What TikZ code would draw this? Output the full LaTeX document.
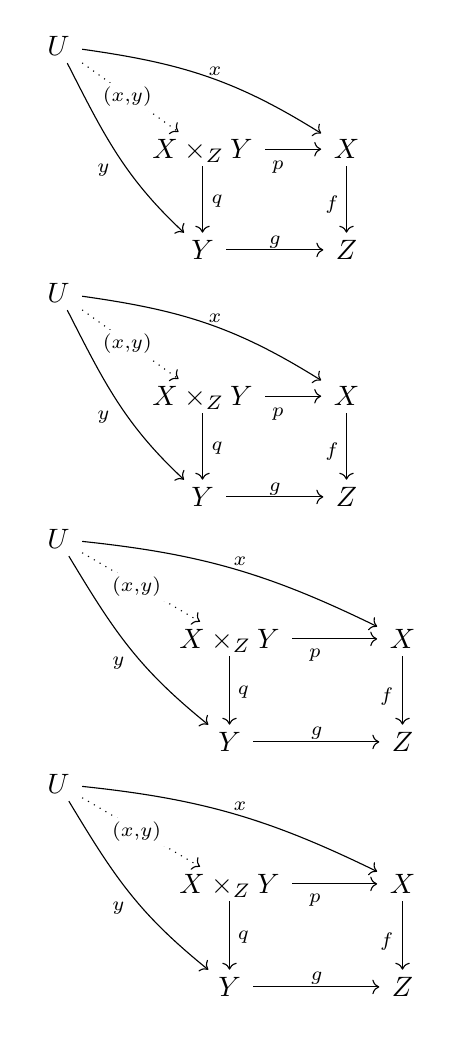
\documentclass[tikz,border=0pt]{standalone}
\usetikzlibrary{arrows.meta}
\tikzset{
  obj/.style={anchor=base, inner xsep=1ex, inner ysep=1.2pt, text height=8pt, text depth=1.5pt},
  lbl/.style={inner sep=0pt},
  desc/.style={fill=white, inner sep=1.5pt},
  arr/.style={-{Computer Modern Rightarrow}, line width=0.4pt},
  dotarr/.style={arr, dotted},
}
\newcommand{\pbnarrow}{%
  \node[obj] (U) at (58.5,55) {$U$};
  \node[obj] (P) at (202.5,158.3) {$X \times_Z Y$};
  \node[obj] (X) at (346.5,158.3) {$X$};
  \node[obj] (Y) at (202.5,259) {$Y$};
  \node[obj] (Z) at (346.5,259) {$Z$};
  \draw[arr] (U.-8) .. controls +(-8:36pt) and +(148:36pt) .. (X.148);
  \draw[arr] (U.-63) .. controls +(-63:29pt) and +(137:29pt) .. (Y.137);
  \draw[dotarr] (U) -- (P);
  \draw[arr] (P) -- (X);
  \draw[arr] (P) -- (Y);
  \draw[arr] (X) -- (Z);
  \draw[arr] (Y) -- (Z);
  \node[lbl] (lx) at (215,71.7) {$\scriptstyle x$};
  \node[lbl] (ly) at (103.3,170) {$\scriptstyle y$};
  \node[desc] (lxy) at (127.3,96.7) {$\scriptstyle (x,y)$};
  \node[lbl] (lp) at (278,166.7) {$\scriptstyle p$};
  \node[lbl] (lq) at (217,201) {$\scriptstyle q$};
  \node[lbl] (lf) at (332,205) {$\scriptstyle f$};
  \node[lbl] (lg) at (275,242) {$\scriptstyle g$};
}
\newcommand{\pbwide}{%
  \node[obj] (U) at (58.5,548) {$U$};
  \node[obj] (P) at (229.5,648) {$X \times_Z Y$};
  \node[obj] (X) at (402.5,648) {$X$};
  \node[obj] (Y) at (229.5,751) {$Y$};
  \node[obj] (Z) at (402.5,751) {$Z$};
  \draw[arr] (U.-6) .. controls +(-6:43pt) and +(154:43pt) .. (X.154);
  \draw[arr] (U.-59) .. controls +(-59:32pt) and +(141:32pt) .. (Y.141);
  \draw[dotarr] (U) -- (P);
  \draw[arr] (P) -- (X);
  \draw[arr] (P) -- (Y);
  \draw[arr] (X) -- (Z);
  \draw[arr] (Y) -- (Z);
  \node[lbl] (lx) at (240,561.7) {$\scriptstyle x$};
  \node[lbl] (ly) at (118.3,663.3) {$\scriptstyle y$};
  \node[desc] (lxy) at (136.7,586.7) {$\scriptstyle (x,y)$};
  \node[lbl] (lp) at (315,655) {$\scriptstyle p$};
  \node[lbl] (lq) at (243.3,691.7) {$\scriptstyle q$};
  \node[lbl] (lf) at (386.7,696.7) {$\scriptstyle f$};
  \node[lbl] (lg) at (316.7,733.3) {$\scriptstyle g$};
}
\begin{document}
\begin{tikzpicture}[x=0.357pt, y=-0.357pt]
  \useasboundingbox (0,0) rectangle (450,1044);
  \begin{scope}[name prefix=a-]
    \pbnarrow
  \end{scope}
  \begin{scope}[shift={(0,247)}, name prefix=b-]
    \pbnarrow
  \end{scope}
  \begin{scope}[name prefix=c-]
    \pbwide
  \end{scope}
  \begin{scope}[shift={(0,245)}, name prefix=d-]
    \pbwide
  \end{scope}
\end{tikzpicture}
\end{document}
